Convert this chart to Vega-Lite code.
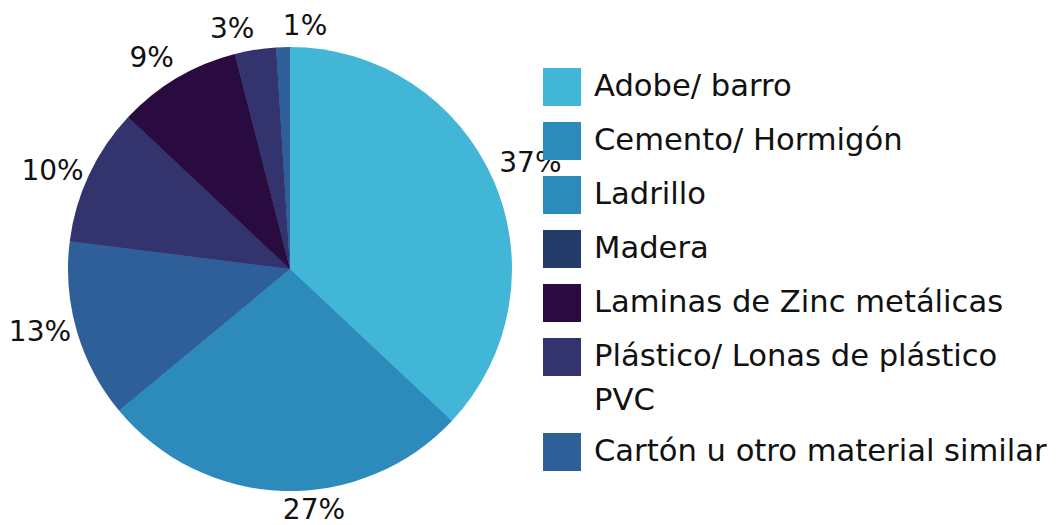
{
  "$schema": "https://vega.github.io/schema/vega-lite/v6.json",
  "width": 580,
  "height": 524,
  "autosize": {"type": "none"},
  "padding": {"left": 0, "top": 7, "right": 482, "bottom": 0},
  "background": "white",
  "config": {"view": {"stroke": null}, "font": "DejaVu Sans"},
  "data": {
    "values": [
      {"material": "Adobe/ barro", "share": 0.37, "orden": 1},
      {"material": "Cemento/ Hormigón", "share": 0.27, "orden": 2},
      {"material": "Ladrillo", "share": 0.13, "orden": 3},
      {"material": "Madera", "share": 0.10, "orden": 4},
      {"material": "Laminas de Zinc metálicas", "share": 0.09, "orden": 5},
      {"material": "Plástico/ Lonas de plástico PVC", "share": 0.03, "orden": 6},
      {"material": "Cartón u otro material similar", "share": 0.01, "orden": 7}
    ]
  },
  "layer": [
    {
      "mark": {"type": "arc", "outerRadius": 221},
      "encoding": {
        "theta": {"field": "share", "type": "quantitative", "stack": true},
        "order": {"field": "orden", "type": "quantitative"},
        "fill": {
          "field": "material",
          "type": "nominal",
          "scale": {
            "domain": ["Adobe/ barro", "Cemento/ Hormigón", "Ladrillo", "Madera", "Laminas de Zinc metálicas", "Plástico/ Lonas de plástico PVC", "Cartón u otro material similar"],
            "range": ["#41B6D6", "#2C8BBA", "#2C8BBA", "#243A69", "#2A0B3F", "#33346E", "#2E5F98"]
          },
          "legend": {
            "title": null,
            "orient": "none",
            "legendX": 543,
            "legendY": 61,
            "padding": 0,
            "symbolType": "square",
            "symbolSize": 1444,
            "symbolStrokeWidth": 0,
            "symbolOpacity": 1,
            "labelFont": "DejaVu Sans",
            "labelFontSize": 30.6,
            "labelColor": "#111111",
            "labelOffset": 13,
            "labelLimit": 600,
            "rowPadding": 16,
            "labelBaseline": "top",
            "labelExpr": "datum.label == 'Plástico/ Lonas de plástico PVC' ? ['Plástico/ Lonas de plástico', 'PVC'] : datum.label",
            "encode": {
              "labels": {"update": {"dy": {"value": -15}, "lineHeight": {"value": 44}}}
            }
          }
        }
      }
    },
    {
      "mark": {"type": "arc", "outerRadius": 222},
      "encoding": {
        "theta": {"field": "share", "type": "quantitative", "stack": true},
        "order": {"field": "orden", "type": "quantitative"},
        "color": {
          "field": "material",
          "type": "nominal",
          "scale": {
            "domain": ["Adobe/ barro", "Cemento/ Hormigón", "Ladrillo", "Madera", "Laminas de Zinc metálicas", "Plástico/ Lonas de plástico PVC", "Cartón u otro material similar"],
            "range": ["#41B6D6", "#2C8BBA", "#2E5F98", "#33346E", "#2A0B3F", "#33346E", "#2E5F98"]
          },
          "legend": null
        }
      }
    },
    {
      "mark": {
        "type": "text",
        "radius": 228,
        "fontSize": 28,
        "color": "#111111",
        "font": "DejaVu Sans",
        "align": {"expr": "sin(PI*(datum.share_start + datum.share_end)) < -0.1 ? 'right' : 'left'"},
        "baseline": {"expr": "(cos(PI*(datum.share_start + datum.share_end)) > 0.3 && (sin(PI*(datum.share_start + datum.share_end)) > 0 || cos(PI*(datum.share_start + datum.share_end)) > 0.5)) ? 'bottom' : (cos(PI*(datum.share_start + datum.share_end)) < -0.3 ? 'top' : 'middle')"}
      },
      "encoding": {
        "theta": {"field": "share", "type": "quantitative", "stack": true},
        "order": {"field": "orden", "type": "quantitative"},
        "text": {"field": "share", "type": "quantitative", "format": ".0%"}
      }
    }
  ]
}
